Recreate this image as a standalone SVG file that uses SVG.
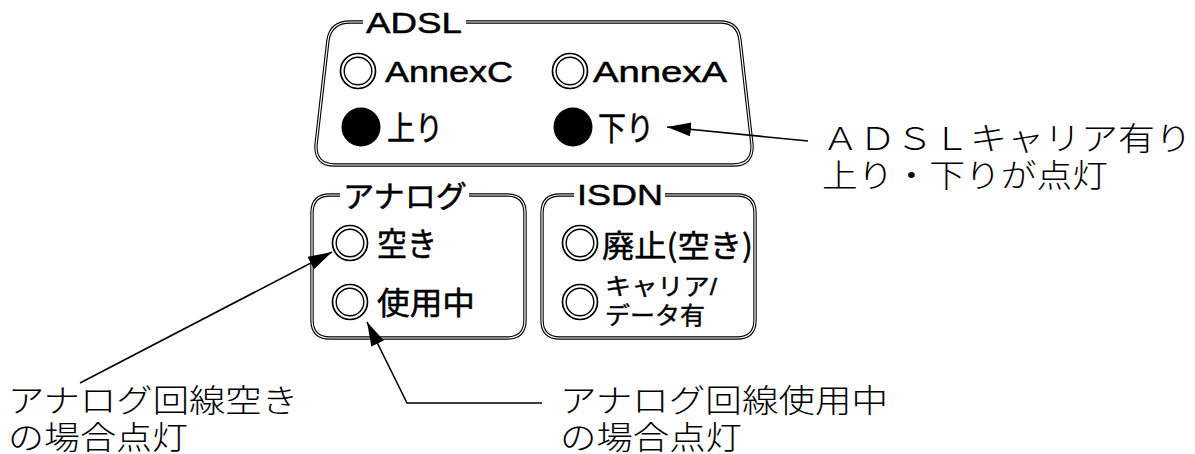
<svg xmlns="http://www.w3.org/2000/svg" width="1195" height="454" viewBox="0 0 1195 454">
<style>
.bk{fill:none;stroke:#000;stroke-width:3.4;stroke-linejoin:round}
.wh{fill:none;stroke:#fff;stroke-width:1.2;stroke-linejoin:round}
.lat{font-family:"Liberation Sans",Arial,sans-serif;font-size:30px;fill:#000;stroke:#000;stroke-width:0.5}
.jp{font-family:"Noto Sans CJK JP",sans-serif;fill:#000;stroke:#000;stroke-width:0.5}
.jps{font-family:"Liberation Sans","Noto Sans CJK JP",sans-serif;font-size:24px;fill:#000;stroke:#000;stroke-width:0.4}
.ann{font-family:"Liberation Serif","Noto Sans CJK JP",serif;font-size:32px;font-weight:300;fill:#000}
.ro{fill:none;stroke:#000;stroke-width:1.7}
.ri{fill:none;stroke:#000;stroke-width:1.4}
.con{fill:none;stroke:#000;stroke-width:1.6}
</style>
<defs>
<marker id="ah" markerUnits="userSpaceOnUse" markerWidth="26" markerHeight="14" refX="24" refY="7" orient="auto">
<path d="M0,0 L24,7 L0,14 Z" fill="#000"/>
</marker>
<g id="led"><circle r="17.5" class="ro"/><circle r="13.8" class="ri"/></g>
</defs>
<g id="adsl">
<path class="bk" d="M466 22 L720 22 Q738 22 740 40 L752 145 Q753 165 733 165 L335 165 Q315 165 316 145 L328 40 Q331 22 350 22 L363 22"/>
<path class="wh" d="M466 22 L720 22 Q738 22 740 40 L752 145 Q753 165 733 165 L335 165 Q315 165 316 145 L328 40 Q331 22 350 22 L363 22"/>
<text class="lat" x="366" y="33" textLength="96" lengthAdjust="spacingAndGlyphs">ADSL</text>
<use href="#led" x="358" y="71"/>
<text class="lat" x="385" y="82" textLength="128" lengthAdjust="spacingAndGlyphs">AnnexC</text>
<use href="#led" x="570" y="71"/>
<text class="lat" x="593" y="82" textLength="134" lengthAdjust="spacingAndGlyphs">AnnexA</text>
<circle cx="361" cy="127" r="19.5" fill="#000"/>
<text class="jp" x="387" y="140" font-size="33" textLength="56" lengthAdjust="spacingAndGlyphs">上り</text>
<circle cx="573" cy="127" r="19.5" fill="#000"/>
<text class="jp" x="598" y="140" font-size="33" textLength="56" lengthAdjust="spacingAndGlyphs">下り</text>
</g>
<g id="analog">
<path class="bk" d="M469 195 L507 195 Q525 195 525 213 L525 320 Q525 338 507 338 L330 338 Q312 338 312 320 L312 213 Q312 195 330 195 L340 195"/>
<path class="wh" d="M469 195 L507 195 Q525 195 525 213 L525 320 Q525 338 507 338 L330 338 Q312 338 312 320 L312 213 Q312 195 330 195 L340 195"/>
<text class="jp" x="343" y="207" font-size="30" textLength="124" lengthAdjust="spacingAndGlyphs">アナログ</text>
<use href="#led" x="350" y="243"/>
<text class="jp" x="377" y="256" font-size="33" textLength="60" lengthAdjust="spacingAndGlyphs">空き</text>
<use href="#led" x="350" y="302"/>
<text class="jp" x="377" y="314" font-size="31" textLength="98" lengthAdjust="spacingAndGlyphs">使用中</text>
</g>
<g id="isdn">
<path class="bk" d="M665 195 L737 195 Q755 195 755 213 L755 320 Q755 338 737 338 L560 338 Q542 338 542 320 L542 213 Q542 195 560 195 L574 195"/>
<path class="wh" d="M665 195 L737 195 Q755 195 755 213 L755 320 Q755 338 737 338 L560 338 Q542 338 542 320 L542 213 Q542 195 560 195 L574 195"/>
<text class="lat" x="577" y="205" textLength="86" lengthAdjust="spacingAndGlyphs">ISDN</text>
<use href="#led" x="580" y="243"/>
<text class="jp" x="602" y="257" font-size="31" textLength="151" lengthAdjust="spacingAndGlyphs">廃止(空き)</text>
<use href="#led" x="580" y="302"/>
<text class="jps" x="605" y="295" textLength="112" lengthAdjust="spacingAndGlyphs">キャリア/</text>
<text class="jps" x="605" y="324" textLength="100" lengthAdjust="spacingAndGlyphs">データ有</text>
</g>
<g id="notes">
<text class="ann" x="822" y="150" textLength="370" lengthAdjust="spacingAndGlyphs">ＡＤＳＬキャリア有り</text>
<text class="ann" x="822" y="187" textLength="286" lengthAdjust="spacingAndGlyphs">上り・下りが点灯</text>
<text class="ann" x="8" y="412" textLength="290" lengthAdjust="spacingAndGlyphs">アナログ回線空き</text>
<text class="ann" x="8" y="449" textLength="180" lengthAdjust="spacingAndGlyphs">の場合点灯</text>
<text class="ann" x="560" y="412" textLength="328" lengthAdjust="spacingAndGlyphs">アナログ回線使用中</text>
<text class="ann" x="560" y="449" textLength="182" lengthAdjust="spacingAndGlyphs">の場合点灯</text>
</g>
<g id="connectors">
<path class="con" d="M808 141 L667 127" marker-end="url(#ah)"/>
<path class="con" d="M80 383 L332 252" marker-end="url(#ah)"/>
<path class="con" d="M542 403 L407 403 L367 322" marker-end="url(#ah)"/>
</g>
</svg>
